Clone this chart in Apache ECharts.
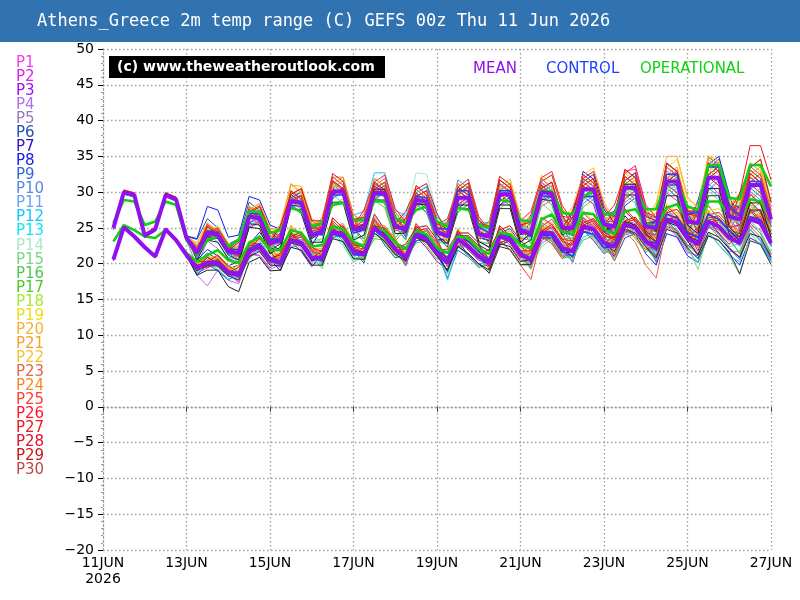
<!DOCTYPE html>
<html><head><meta charset="utf-8">
<script src="https://cdn.jsdelivr.net/npm/echarts@6/dist/echarts.min.js"></script>
<style>html,body{margin:0;padding:0;background:#fff}#c{width:800px;height:600px}</style>
</head><body><div id="c"></div>
<script>
// 6-hourly steps starting 11 Jun 06z (hours since 11 Jun 00z), 64 steps
const dateLabels = ['11JUN\n2026','13JUN','15JUN','17JUN','19JUN','21JUN','23JUN','25JUN','27JUN'];
const legendNames = ['P1','P2','P3','P4','P5','P6','P7','P8','P9','P10','P11','P12','P13','P14','P15','P16','P17','P18','P19','P20','P21','P22','P23','P24','P25','P26','P27','P28','P29','P30'];

const meanMax=[25.0,30.0,29.6,23.9,24.8,29.6,29.0,23.6,21.5,24.3,24.0,21.7,21.5,26.6,26.4,22.9,23.3,28.7,28.5,24.0,24.5,30.1,30.1,24.8,25.0,29.9,29.9,25.2,24.8,28.9,28.7,24.5,23.8,29.2,29.2,24.1,23.8,29.7,29.7,24.5,24.3,30.0,29.8,25.0,25.0,30.4,30.4,25.5,25.2,30.6,30.6,25.2,25.0,31.5,31.5,25.9,25.7,32.0,32.0,26.6,26.2,31.0,31.0,26.2];
const meanMin=[20.6,25.1,23.8,22.3,21.0,24.8,23.3,21.2,19.4,20.1,20.1,18.7,18.4,21.7,22.4,20.5,20.1,23.3,22.9,20.8,20.8,24.5,24.1,21.7,21.3,25.0,23.8,22.0,20.8,24.1,23.4,21.5,20.1,23.4,22.4,21.0,20.1,23.8,23.4,21.3,20.6,24.3,24.3,22.2,21.7,25.2,24.8,22.9,22.4,25.5,25.0,23.1,22.2,26.2,25.7,23.6,22.7,25.9,25.2,23.6,22.9,26.2,25.7,22.9];
const ctrlMax=[25.0,30.0,29.6,23.9,24.8,29.6,29.0,23.6,21.8,24.6,24.3,22.0,22.0,27.1,26.9,23.4,23.5,28.9,28.7,24.2,24.0,29.6,29.6,24.3,24.7,29.6,29.6,24.9,25.3,29.4,29.2,25.0,24.8,30.2,30.2,25.1,24.3,30.2,30.2,25.0,23.8,29.5,29.3,24.5,24.0,29.4,29.4,24.5,25.2,30.6,30.6,25.2,26.0,32.5,32.5,26.9,27.2,33.5,33.5,28.1,26.7,31.5,31.5,26.7];
const ctrlMin=[20.6,25.1,23.8,22.3,21.0,24.8,23.3,21.2,19.6,20.3,20.3,18.9,18.8,22.1,22.8,20.9,20.2,23.4,23.0,20.9,20.4,24.1,23.7,21.3,21.1,24.8,23.6,21.8,21.2,24.5,23.8,21.9,20.8,24.1,23.1,21.7,20.5,24.2,23.8,21.7,20.2,23.9,23.9,21.8,21.0,24.5,24.1,22.2,22.4,25.5,25.0,23.1,22.9,26.9,26.4,24.3,23.7,26.9,26.2,24.6,23.3,26.6,26.1,23.3];
const opMax=[25.7,28.9,28.7,25.4,25.9,28.7,28.2,23.3,21.2,23.3,23.8,22.4,23.3,27.3,27.3,24.3,24.7,27.8,27.3,25.2,25.7,28.2,28.5,26.1,26.1,28.7,28.7,26.4,25.7,27.5,28.0,25.9,25.2,27.8,27.5,25.4,25.0,28.9,28.7,26.1,25.9,30.3,30.1,27.1,26.9,29.4,30.1,26.9,26.9,30.8,30.3,27.6,27.6,31.5,31.5,28.0,27.5,33.8,33.8,29.2,29.0,33.8,33.8,30.8];
const opMin=[23.1,25.4,24.7,23.8,23.6,24.7,23.3,21.5,20.3,21.2,21.9,20.5,20.1,22.9,23.8,21.9,21.9,24.7,24.3,22.4,22.6,25.2,24.8,23.1,22.4,25.0,24.6,22.9,22.0,24.6,24.1,22.2,21.5,23.8,23.6,22.0,21.4,24.3,24.1,22.6,22.2,26.2,26.9,24.5,24.1,27.1,26.9,24.8,24.1,27.3,27.6,25.7,25.2,27.8,28.3,26.2,25.5,28.7,28.7,26.9,26.2,29.0,28.7,26.4];

const p1Max=[25.2,30.2,29.8,24.1,24.9,29.7,29.1,23.7,22.4,25.3,24.2,22.0,22.9,27.4,26.6,23.1,23.4,28.9,27.6,24.1,25.3,30.4,29.8,24.6,26.4,31.2,30.1,25.5,24.8,29.8,28.6,24.2,23.6,28.0,28.9,24.0,23.1,28.1,29.0,24.3,25.6,31.3,30.2,25.0,27.1,32.5,31.2,26.1,26.5,32.9,33.2,27.9,25.3,31.8,32.9,27.5,24.1,30.2,31.6,26.4,23.5,29.8,28.4,23.6];
const p1Min=[20.7,25.2,23.9,22.4,21.1,24.9,23.4,21.3,19.9,20.9,20.1,18.6,18.7,22.8,23.4,20.8,19.4,23.4,22.1,20.0,21.4,24.3,24.8,22.4,22.5,25.2,24.0,22.1,21.6,24.9,23.2,21.2,19.0,22.4,22.3,20.9,19.8,22.6,23.2,21.1,20.3,24.9,24.1,22.0,22.1,26.5,25.3,23.4,23.2,27.3,26.0,24.9,23.5,26.4,25.8,23.7,21.4,25.6,24.1,22.3,20.9,25.3,24.7,21.0];
const p2Max=[24.8,29.8,29.4,23.7,24.8,29.6,29.0,23.6,20.6,23.4,23.9,21.6,20.1,25.1,25.9,22.5,23.0,29.3,28.1,23.6,25.8,31.4,30.2,25.0,24.6,30.3,29.2,24.6,24.9,28.1,28.8,24.6,23.8,30.2,29.1,24.0,25.3,31.1,30.2,25.0,26.4,31.9,30.6,25.8,24.9,30.3,31.5,26.7,23.6,29.0,30.2,24.9,22.4,29.9,28.8,23.3,24.9,31.2,29.8,24.5,27.4,32.1,30.8,26.0];
const p2Min=[20.5,25.0,23.7,22.2,21.0,24.8,23.3,21.2,18.7,19.4,20.1,18.6,17.4,21.4,21.2,19.4,20.6,23.0,23.4,21.4,21.0,25.5,24.3,21.8,21.7,24.6,24.3,22.5,20.0,23.2,23.5,21.6,20.9,24.2,22.3,20.9,20.3,24.9,23.6,21.5,21.1,25.8,24.8,22.6,22.6,25.1,25.6,23.9,21.2,24.3,24.9,23.0,20.2,25.3,23.8,21.6,21.1,25.4,24.7,23.1,23.8,26.1,25.5,22.6];
const p3Max=[25.1,30.1,29.7,24.0,25.0,29.8,29.2,23.8,22.2,24.2,24.8,22.5,21.1,26.9,25.8,22.4,24.4,29.0,29.6,25.1,24.1,30.6,29.5,24.3,24.9,29.0,29.9,25.2,23.4,28.4,27.2,23.0,23.8,28.3,29.3,24.2,23.6,30.5,29.4,24.3,24.1,28.8,29.6,24.8,23.0,29.4,28.3,23.4,25.8,31.2,30.0,24.6,26.0,33.5,32.2,26.8,28.3,33.4,34.6,29.3,26.5,32.6,31.3,26.5];
const p3Min=[20.7,25.2,23.9,22.4,21.1,24.9,23.4,21.3,19.9,20.0,20.7,19.3,18.1,22.2,22.0,20.1,20.9,23.3,23.7,21.7,20.3,24.9,23.6,21.2,21.4,24.1,23.9,22.1,19.7,23.8,22.2,20.3,19.2,23.4,22.5,21.1,20.7,23.5,24.1,21.9,19.5,23.2,24.2,22.1,20.2,24.7,23.2,21.4,22.9,25.1,25.6,23.6,22.7,27.7,26.1,24.0,24.6,26.8,27.2,25.5,23.0,27.4,25.8,23.0];
const p4Max=[24.9,29.9,29.5,23.8,24.5,29.3,28.7,23.3,19.6,23.2,22.1,20.6,20.8,25.0,25.7,22.2,22.0,28.3,27.2,22.7,24.8,29.5,30.4,25.1,25.0,30.8,29.9,25.2,26.3,30.4,29.2,25.0,25.8,30.3,31.2,26.1,24.1,30.9,30.0,24.8,24.8,29.6,30.3,25.5,24.0,30.4,29.4,24.5,23.2,28.6,29.6,24.2,24.6,31.1,30.0,24.4,26.8,33.6,34.2,27.9,27.5,32.4,33.6,28.8];
const p4Min=[20.5,25.0,23.7,22.2,20.8,24.6,23.1,21.0,18.4,16.9,19.1,17.7,17.2,21.3,21.1,19.2,19.9,22.2,22.8,20.7,20.2,24.8,23.5,21.1,22.2,25.0,24.7,22.9,21.0,25.3,23.6,21.7,21.6,23.9,23.9,22.5,20.2,24.9,23.5,21.4,21.1,23.8,24.8,22.7,20.8,25.3,23.9,22.0,21.9,24.0,24.5,22.6,21.0,26.0,24.5,22.4,23.6,25.8,26.1,24.5,23.8,28.1,26.6,23.8];
const p5Max=[25.0,30.0,29.6,23.9,25.0,29.8,29.2,23.8,21.9,23.9,24.5,22.1,21.6,27.5,26.3,22.9,24.8,29.2,30.1,25.5,24.5,31.1,30.0,24.8,25.2,29.1,30.2,25.4,24.5,29.6,28.3,24.2,25.1,29.5,30.6,25.4,22.8,29.7,28.6,23.5,23.3,28.0,28.9,24.0,23.5,29.9,28.8,24.0,26.2,30.6,31.7,26.2,25.5,33.0,31.9,26.4,25.7,30.9,32.1,26.6,24.2,30.1,28.9,24.2];
const p5Min=[20.6,25.1,23.8,22.3,21.1,24.9,23.4,21.3,19.0,20.5,19.7,18.3,19.2,21.7,23.2,21.3,20.4,24.4,23.1,21.0,21.6,24.4,25.0,22.6,20.7,25.3,23.1,21.3,21.3,23.8,23.9,22.1,20.2,24.5,22.5,21.1,19.3,23.9,22.6,20.5,20.0,22.8,23.8,21.7,20.5,25.0,23.6,21.7,23.2,25.4,25.9,24.0,22.4,27.4,25.9,23.8,22.8,25.0,25.3,23.7,21.4,25.7,24.2,21.4];
const p6Max=[25.3,30.3,29.9,24.2,25.0,29.8,29.2,23.8,23.4,26.3,25.0,22.7,23.5,28.6,27.4,23.9,23.3,29.7,28.5,24.0,24.5,29.1,30.2,24.8,23.5,29.4,28.3,23.6,25.3,28.4,29.3,25.1,24.3,30.7,29.6,24.6,25.9,31.7,30.6,25.4,24.2,30.0,30.9,26.1,25.1,29.4,30.5,25.6,22.6,28.1,29.2,23.8,24.1,30.6,29.3,23.8,25.1,32.6,31.4,26.0,28.3,33.1,31.9,27.1];
const p6Min=[20.8,25.3,24.0,22.5,21.1,24.9,23.4,21.3,20.0,21.5,20.6,19.3,19.8,22.2,23.9,21.9,20.0,24.2,22.8,20.7,20.9,23.6,24.2,21.8,20.1,24.8,22.6,20.8,21.3,23.6,23.9,22.0,20.3,24.6,22.6,21.2,21.6,24.3,24.9,22.8,20.4,25.2,24.2,22.0,21.8,24.3,24.9,23.0,20.4,23.6,24.2,22.3,20.6,25.8,24.1,22.0,23.3,25.3,25.8,24.2,23.3,27.7,26.1,23.3];
const p7Max=[24.7,29.7,29.3,23.6,24.8,29.6,29.0,23.6,21.6,25.2,24.0,21.8,21.5,25.7,26.4,22.9,21.8,28.2,27.0,22.5,25.0,29.6,30.6,25.3,25.0,30.9,29.8,25.1,26.3,29.4,30.2,26.0,23.3,29.7,28.6,23.6,23.3,28.2,29.3,24.1,24.2,31.0,29.7,24.9,27.1,31.4,32.5,27.6,25.6,32.2,31.0,25.6,26.1,31.4,32.6,27.0,27.6,34.9,33.9,28.5,27.8,31.4,32.6,26.6];
const p7Min=[20.4,24.9,23.6,22.1,21.0,24.8,23.3,21.2,19.4,20.9,20.0,18.7,18.4,20.9,22.5,20.6,19.0,23.1,21.7,19.6,21.3,24.0,24.6,22.2,21.2,25.9,23.7,21.9,22.0,24.3,24.6,22.7,19.6,23.9,21.9,20.5,19.9,22.6,23.2,21.1,20.4,25.2,24.1,22.0,23.2,25.7,26.3,24.4,22.5,26.7,25.1,23.2,23.2,26.0,26.7,24.6,23.8,28.1,26.3,24.7,24.2,26.3,27.0,24.2];
const p8Max=[25.2,30.2,29.8,24.1,25.1,29.9,29.3,23.9,23.5,28.0,27.5,23.7,24.0,29.4,28.9,25.4,24.8,29.2,30.0,25.5,24.5,31.1,30.0,24.7,25.5,29.4,30.5,25.8,23.8,28.9,27.6,23.4,23.3,27.7,28.8,23.7,23.2,30.2,29.1,24.0,25.8,30.5,31.4,26.6,26.4,32.9,31.8,26.9,27.3,31.6,32.7,27.3,24.4,32.0,30.9,25.3,28.8,33.9,35.0,29.7,25.1,31.1,29.9,25.1];
const p8Min=[20.7,25.2,23.9,22.4,21.2,25.0,23.5,21.4,20.5,22.0,21.1,19.7,20.3,22.7,24.4,22.5,20.3,24.5,23.1,21.0,21.7,24.4,25.0,22.6,20.8,25.5,23.3,21.5,20.9,23.2,23.5,21.6,18.9,23.2,21.2,19.8,20.6,23.3,23.9,21.8,20.7,25.5,24.4,22.3,21.6,25.1,24.7,22.8,21.0,24.6,24.1,21.4,19.8,24.2,23.7,21.1,20.2,23.9,23.3,21.4,19.8,23.6,22.8,20.4];
const p9Max=[24.8,29.8,29.4,23.7,24.6,29.4,28.8,23.4,21.1,23.1,23.7,21.4,21.0,27.1,25.9,22.4,24.3,28.7,29.5,25.0,25.0,31.6,30.5,25.2,26.0,29.9,31.0,26.3,23.8,28.9,27.6,23.4,22.8,27.2,28.3,23.2,22.3,29.2,28.1,22.9,24.4,29.0,29.9,25.1,24.5,30.9,29.8,24.9,26.8,31.1,32.2,26.8,26.4,34.1,32.9,27.3,27.3,32.4,33.6,28.2,24.6,30.6,29.4,24.6];
const p9Min=[20.5,25.0,23.7,22.2,20.9,24.7,23.2,21.1,18.4,19.9,19.0,17.7,18.8,21.2,22.9,21.0,20.0,24.2,22.8,20.7,21.9,24.7,25.3,22.9,21.2,25.9,23.7,21.9,20.9,23.2,23.5,21.6,18.0,21.9,20.9,19.5,19.9,22.6,23.2,21.1,19.6,24.4,23.3,21.2,21.2,25.7,24.2,22.3,22.5,25.6,25.1,23.2,22.3,26.4,25.5,23.2,21.2,25.1,24.3,22.1,20.6,24.8,23.3,20.6];
const p10Max=[25.0,30.0,29.6,23.9,24.7,29.5,28.9,23.5,21.3,24.9,23.7,21.4,21.7,25.8,26.6,23.1,22.8,29.2,28.0,23.5,24.5,29.1,30.1,24.8,25.3,31.2,30.2,25.5,26.8,29.9,30.8,26.5,25.3,31.7,30.6,25.6,25.8,30.7,31.8,26.5,23.8,30.5,29.2,24.4,24.0,28.4,29.5,24.6,23.6,30.2,29.0,23.6,25.6,31.0,32.1,26.5,26.6,34.1,32.9,27.5,26.8,30.4,31.6,25.6];
const p10Min=[20.6,25.1,23.8,22.3,20.9,24.7,23.2,21.1,19.1,20.6,19.7,18.4,17.8,22.0,21.7,19.8,20.6,22.8,23.4,21.3,19.9,24.6,23.2,20.8,22.4,25.1,24.9,23.1,21.3,25.6,23.9,22.0,22.0,24.3,24.3,22.9,20.6,25.3,23.9,21.8,21.1,23.8,24.8,22.7,20.2,24.7,23.3,21.4,22.2,24.3,24.8,22.9,21.7,26.7,25.2,23.1,23.2,27.4,25.7,24.1,22.4,26.7,25.2,22.4];
const p11Max=[25.1,30.1,29.7,24.0,24.8,29.6,29.0,23.6,21.6,23.6,24.2,21.9,22.5,26.6,27.4,23.9,23.6,30.0,28.8,24.3,26.0,30.6,31.6,26.3,26.0,31.9,30.8,26.1,25.8,28.9,29.7,25.5,23.3,29.7,28.6,23.6,24.8,29.7,30.8,25.5,24.8,31.5,30.2,25.4,26.0,30.4,31.5,26.6,24.2,30.6,29.5,24.1,24.0,29.4,30.6,25.0,23.1,30.6,29.4,24.0,25.8,29.4,30.6,24.6];
const p11Min=[20.7,25.2,23.9,22.4,21.0,24.8,23.3,21.2,19.6,19.5,20.4,18.9,18.4,22.6,22.3,20.4,21.1,23.4,24.0,21.9,21.0,25.7,24.3,21.9,22.8,25.5,25.3,23.5,20.7,25.0,23.3,21.4,20.6,22.9,22.9,21.5,20.0,24.7,23.3,21.2,21.8,24.5,25.5,23.4,21.6,26.1,24.7,22.8,22.5,24.6,25.1,23.2,20.7,25.7,24.2,22.1,20.8,24.0,23.3,21.7,21.7,26.0,24.5,21.7];
const p12Max=[24.8,29.8,29.4,23.7,24.9,29.7,29.1,23.7,20.6,24.2,23.0,20.8,21.2,25.3,26.1,22.6,22.8,29.2,28.0,23.5,25.5,31.1,32.1,26.8,27.3,32.7,32.7,27.4,26.8,29.9,30.7,25.4,23.8,30.2,29.1,24.0,25.3,30.2,31.2,26.0,23.2,30.0,28.8,24.0,24.6,28.9,29.9,25.0,25.1,31.6,30.5,25.1,25.0,30.4,31.6,26.0,23.1,30.6,29.4,24.0,23.8,27.4,28.6,22.6];
const p12Min=[20.5,25.0,23.7,22.2,21.1,24.9,23.4,21.3,18.6,20.1,19.2,17.9,18.2,20.6,22.3,20.4,19.6,23.8,22.4,20.3,22.2,25.0,25.6,23.2,22.3,27.0,24.8,23.0,22.2,24.6,24.9,22.0,17.7,22.4,21.4,20.0,20.0,24.7,23.3,21.2,19.2,23.8,22.8,20.7,21.2,23.7,24.3,22.4,21.8,25.0,25.5,22.6,20.6,25.7,24.1,22.0,20.1,24.4,22.6,21.0,20.3,24.8,23.1,20.3];
const p13Max=[25.0,30.0,29.6,23.9,24.8,29.6,29.0,23.6,22.1,24.1,24.7,22.3,21.3,27.4,26.2,22.7,23.3,27.7,28.5,24.0,23.0,29.6,28.5,23.3,25.0,28.9,30.0,25.2,24.8,29.9,28.6,24.5,26.3,30.7,31.8,26.6,24.3,31.2,30.1,25.0,24.8,29.5,30.4,25.5,25.5,31.9,30.8,26.0,27.2,31.6,32.7,27.2,24.0,31.5,30.4,24.9,25.3,30.4,31.6,26.2,26.1,32.1,30.9,26.1];
const p13Min=[20.6,25.1,23.8,22.3,21.0,24.8,23.3,21.2,19.9,19.8,20.6,19.2,18.2,22.3,22.1,20.2,20.1,22.4,22.9,20.9,19.6,24.3,22.9,20.5,21.4,24.1,23.9,22.1,20.7,25.0,23.3,21.4,22.0,24.3,24.3,22.9,20.3,25.0,23.6,21.5,21.1,23.8,24.8,22.7,21.9,26.4,25.0,23.1,23.9,26.0,26.5,24.6,21.3,26.3,24.8,22.7,21.5,25.7,24.0,22.4,22.8,27.1,25.6,22.8];
const p14Max=[25.1,30.1,29.7,24.0,24.6,29.4,28.8,23.4,21.9,23.9,24.4,22.1,21.5,27.6,26.4,22.9,24.1,28.5,29.3,24.8,24.5,31.1,30.0,24.8,26.5,30.4,31.4,26.7,26.8,32.7,32.5,27.0,24.8,31.2,30.1,25.1,24.3,29.2,30.3,25.0,22.8,29.5,28.3,23.5,25.5,29.9,30.9,26.0,25.2,31.6,30.6,25.2,26.5,32.0,33.1,27.4,25.2,32.6,31.4,26.0,25.8,29.4,30.6,24.6];
const p14Min=[20.7,25.2,23.9,22.4,20.9,24.7,23.2,21.1,19.0,20.5,19.6,18.3,19.2,21.6,23.3,21.4,19.8,24.0,22.6,20.5,21.6,24.4,25.0,22.6,21.5,26.2,24.0,22.2,22.8,25.1,25.4,23.5,20.6,24.9,22.9,21.5,20.6,23.3,23.9,21.8,19.4,24.1,23.1,21.0,22.2,24.7,25.3,23.4,22.3,26.4,24.9,23.0,23.4,26.4,26.9,24.8,22.2,26.4,24.7,23.1,21.7,26.0,24.5,21.7];
const p15Max=[24.9,29.9,29.5,23.8,24.8,29.6,29.0,23.6,21.6,25.2,24.0,21.8,22.0,26.1,26.9,23.4,22.3,28.7,27.5,23.0,23.5,28.1,29.1,23.8,23.5,29.4,28.3,23.6,25.3,28.4,29.2,25.0,22.8,29.2,28.1,23.1,22.8,27.7,28.8,23.5,21.8,28.5,27.2,22.4,24.5,28.9,30.0,25.1,24.7,31.1,30.0,24.6,24.5,30.0,31.1,25.5,22.6,30.1,28.9,23.5,23.8,27.4,28.6,22.6];
const p15Min=[20.5,25.0,23.7,22.2,21.0,24.8,23.3,21.2,20.2,20.1,20.9,19.5,18.0,22.2,21.9,20.0,20.1,22.4,22.9,20.9,19.3,24.0,22.6,20.2,21.1,23.8,23.6,21.8,20.3,24.6,22.9,21.0,20.2,22.5,22.5,21.1,18.6,23.3,21.9,19.8,19.7,22.4,23.4,21.3,20.5,25.0,23.6,21.7,22.9,25.0,25.5,23.6,21.0,26.0,24.5,22.4,19.2,24.4,22.7,21.1,18.5,24.2,22.7,19.9];
const p16Max=[25.2,30.2,29.8,24.1,24.9,29.7,29.1,23.7,21.7,23.7,24.3,21.9,20.5,26.6,25.4,21.9,23.8,28.2,29.0,24.5,24.3,30.9,29.8,24.6,25.0,28.9,29.9,25.2,23.3,28.4,27.1,23.0,22.8,27.2,28.2,23.1,22.8,29.7,28.6,23.5,25.3,30.0,30.9,26.1,25.5,31.9,30.8,26.0,25.3,29.6,30.7,25.3,23.0,30.6,29.4,23.8,27.3,32.4,33.6,28.2,28.1,34.1,32.9,28.1];
const p16Min=[20.7,25.2,23.9,22.4,21.1,24.9,23.4,21.3,18.9,20.4,19.5,18.2,18.4,20.8,22.5,20.6,19.6,23.8,22.4,20.3,21.5,24.2,24.8,22.4,20.4,25.1,22.9,21.1,20.6,22.9,23.2,21.3,18.6,22.9,20.9,19.5,20.2,22.9,23.5,21.4,20.5,25.2,24.2,22.1,22.9,25.4,26.0,24.1,21.5,25.6,24.1,22.2,20.5,25.7,24.2,22.1,22.8,27.1,25.4,23.8,23.9,28.4,26.9,24.0];
const p17Max=[25.0,30.0,29.6,23.9,24.6,29.4,28.8,23.4,21.1,24.7,23.6,21.3,22.3,26.4,27.2,23.7,23.3,29.7,28.5,24.0,24.5,29.1,30.1,24.8,23.0,28.9,27.8,23.2,24.8,27.9,28.7,24.5,23.8,30.2,29.1,24.1,24.3,29.2,30.3,25.0,22.8,29.5,28.2,23.5,23.5,27.9,29.0,24.1,23.1,29.6,28.5,23.1,25.5,31.0,32.1,26.5,25.6,33.1,31.9,26.5,25.3,28.9,30.1,24.1];
const p17Min=[20.6,25.1,23.8,22.3,20.9,24.7,23.2,21.1,19.8,19.7,20.5,19.1,18.2,22.4,22.1,20.2,20.9,23.2,23.8,21.7,19.9,24.6,23.2,20.8,20.8,23.5,23.3,21.5,19.9,24.2,22.5,20.6,21.0,23.3,23.3,21.9,19.6,24.3,22.9,20.8,19.4,24.1,23.1,21.0,20.8,23.3,23.9,22.0,20.9,25.0,23.5,21.6,22.7,25.7,26.2,24.1,22.6,26.8,25.1,23.5,21.4,25.7,24.2,21.4];
const p18Max=[24.8,29.8,29.4,23.7,25.0,29.8,29.2,23.8,22.7,24.7,25.3,22.9,22.0,28.1,26.9,23.4,25.0,29.4,30.2,25.7,24.5,31.1,30.0,24.8,25.5,29.4,30.4,25.7,25.3,30.4,29.1,25.0,25.8,30.2,31.2,26.1,25.3,32.2,31.1,26.0,25.8,30.5,31.4,26.6,24.5,30.9,29.8,25.0,25.3,29.6,30.7,25.3,25.0,32.6,31.4,25.8,27.8,32.9,34.1,28.7,26.1,32.1,30.9,26.1];
const p18Min=[20.5,25.0,23.7,22.2,21.1,24.9,23.4,21.3,19.6,21.1,20.2,18.9,19.5,21.9,23.6,21.7,20.4,24.6,23.2,21.1,21.7,24.4,25.0,22.6,20.8,25.5,23.3,21.5,22.0,24.3,24.6,22.7,20.6,24.9,22.9,21.5,22.0,24.7,25.3,23.2,20.8,25.5,24.5,22.4,22.2,24.7,25.3,23.4,21.5,25.6,24.1,22.2,23.1,26.1,26.6,24.5,23.2,27.4,25.7,24.1,22.8,27.1,25.6,22.8];
const p19Max=[25.3,30.3,29.9,24.2,24.8,29.6,29.0,23.6,22.1,25.7,24.5,22.3,23.5,27.6,28.4,24.9,24.6,31.0,29.8,25.3,26.0,30.6,31.6,26.3,26.0,31.9,30.8,26.1,25.8,28.9,29.7,25.5,23.3,29.7,28.6,23.6,25.8,30.7,31.8,26.5,24.8,32.4,31.2,25.4,26.0,30.4,31.5,26.6,25.6,32.2,31.0,25.6,28.1,33.4,34.6,29.0,28.1,35.1,34.4,29.0,28.3,31.9,33.1,27.1];
const p19Min=[20.8,25.3,24.0,22.5,21.0,24.8,23.3,21.2,20.5,20.4,21.3,19.8,19.0,23.2,22.9,21.0,21.7,24.0,24.6,22.5,21.0,25.7,24.3,21.9,22.8,25.5,25.3,23.5,20.7,25.0,23.3,21.4,20.6,22.9,22.9,21.5,20.6,25.3,23.9,21.8,21.8,24.5,25.5,23.4,21.6,26.1,24.7,22.8,23.6,25.7,26.2,24.3,23.4,28.4,26.9,24.8,25.2,27.4,27.7,26.1,23.4,27.7,26.2,23.4];
const p20Max=[25.2,30.2,29.8,24.1,25.1,29.9,29.3,23.9,22.4,24.4,25.0,22.6,22.0,28.1,26.9,23.4,25.6,31.0,30.8,26.3,25.5,32.1,31.0,25.8,26.0,29.9,30.9,26.2,24.3,29.4,28.1,24.0,25.3,29.7,30.8,25.6,23.8,30.7,29.6,24.5,26.8,31.5,32.4,27.6,26.0,32.4,31.3,26.5,26.3,30.6,31.7,26.3,28.5,35.0,35.0,29.4,27.6,35.0,33.9,28.5,28.8,32.4,33.6,27.6];
const p20Min=[20.7,25.2,23.9,22.4,21.2,25.0,23.5,21.4,19.4,20.9,20.0,18.7,19.5,21.9,23.6,21.7,21.2,25.4,24.0,21.9,22.2,25.0,25.6,23.2,21.2,25.9,23.7,21.9,21.3,23.6,23.9,22.0,20.3,24.6,22.6,21.2,21.0,23.7,24.3,22.2,21.5,26.2,25.2,23.1,23.2,25.7,26.3,24.4,22.3,26.4,24.9,23.0,24.1,27.6,27.6,25.5,23.9,28.1,26.4,24.8,24.8,27.1,27.6,23.8];
const p21Max=[25.0,30.0,29.6,23.9,25.0,29.8,29.2,23.8,22.9,25.7,24.5,22.3,23.5,27.6,28.4,24.9,24.8,31.2,30.0,25.5,26.0,30.6,31.6,26.3,24.5,30.4,29.3,24.6,25.8,28.9,29.7,25.5,24.8,31.2,30.1,25.1,25.3,30.2,31.2,26.0,24.3,31.0,29.7,24.9,26.5,30.9,31.9,27.1,26.6,33.1,32.0,26.6,27.0,32.4,33.5,28.0,25.1,32.6,31.4,26.0,27.8,31.4,32.6,26.6];
const p21Min=[20.6,25.1,23.8,22.3,21.1,24.9,23.4,21.3,19.7,21.2,20.3,19.0,19.8,22.2,23.9,22.0,21.0,25.2,23.8,21.7,21.9,24.7,25.3,22.9,20.8,25.5,23.3,21.5,21.7,24.0,24.3,22.4,20.6,24.9,22.9,21.5,21.3,24.0,24.6,22.5,20.5,25.2,24.2,22.1,22.9,25.4,26.0,24.1,23.3,27.4,25.9,24.0,23.7,26.7,27.2,25.1,22.2,26.4,24.7,23.1,24.1,26.4,26.9,23.1];
const p22Max=[24.9,29.9,29.5,23.8,24.8,29.6,29.0,23.6,21.4,25.0,23.8,21.6,22.5,26.6,27.4,23.9,23.8,30.2,29.0,24.5,26.5,31.1,32.1,26.8,25.5,31.4,30.3,25.6,25.3,28.4,29.2,25.0,22.8,29.2,28.1,23.1,24.8,29.7,30.8,25.5,25.3,32.0,30.7,25.9,28.0,32.4,33.4,28.6,26.1,32.7,31.5,26.1,26.0,31.4,32.6,27.0,26.1,33.6,32.4,27.0,28.8,32.4,33.6,27.6];
const p22Min=[20.5,25.0,23.7,22.2,21.0,24.8,23.3,21.2,20.0,19.9,20.8,19.3,18.4,22.6,22.3,20.4,21.2,23.5,24.1,22.0,21.3,26.0,24.6,22.2,22.5,25.2,25.0,23.2,20.3,24.6,22.9,21.0,20.2,22.5,22.5,21.1,20.0,24.7,23.3,21.2,22.1,24.8,25.8,23.7,22.9,27.4,26.0,24.1,23.9,26.0,26.5,24.6,22.1,27.1,25.6,23.5,23.9,26.1,26.4,24.8,23.8,28.1,26.6,23.8];
const p23Max=[25.1,30.1,29.7,24.0,24.9,29.7,29.1,23.7,21.9,23.9,24.5,22.1,20.5,26.6,25.4,21.9,24.3,28.7,29.5,25.0,24.8,31.4,30.3,25.0,27.0,30.9,31.9,27.2,25.3,30.4,29.1,25.0,24.3,28.7,29.8,24.6,22.8,29.7,28.6,23.5,23.8,28.5,29.4,24.6,24.5,30.9,29.8,25.0,26.8,31.1,32.2,26.8,26.0,33.5,32.4,26.9,26.8,31.9,33.1,27.7,25.1,31.1,29.9,25.1];
const p23Min=[20.7,25.2,23.9,22.4,21.1,24.9,23.4,21.3,19.0,20.5,19.6,18.3,18.4,20.8,22.5,20.6,20.1,24.2,22.8,20.7,21.8,24.6,25.2,22.8,21.8,26.5,24.3,22.5,22.0,24.3,24.6,22.7,19.6,23.9,21.9,20.5,20.2,22.9,23.5,21.4,19.4,24.1,23.1,21.0,22.2,24.7,25.3,23.4,20.4,24.5,23.0,19.8,18.0,25.2,24.7,22.6,21.2,25.4,23.7,22.1,20.9,25.2,23.7,20.9];
const p24Max=[25.2,30.2,29.8,24.1,24.8,29.6,29.0,23.6,21.6,25.2,24.0,21.8,22.5,26.6,27.4,23.9,23.8,30.2,29.0,24.5,26.5,32.1,32.1,26.8,26.0,31.9,30.8,26.1,26.3,29.4,30.2,26.0,24.8,31.2,30.1,25.1,25.3,30.2,31.2,26.0,24.3,31.0,29.7,24.9,25.0,29.4,30.4,25.6,24.6,31.2,30.0,24.6,26.5,32.0,33.1,27.5,27.1,34.6,33.4,28.0,29.8,33.4,34.6,28.6];
const p24Min=[20.7,25.2,23.9,22.4,21.0,24.8,23.3,21.2,20.2,20.1,21.0,19.5,18.4,22.6,22.3,20.4,21.2,23.5,24.1,22.0,21.7,26.4,25.0,22.6,22.8,25.5,25.3,23.5,21.0,25.3,23.6,21.7,21.6,23.9,23.9,22.5,20.3,25.0,23.6,21.5,21.5,24.2,25.2,23.1,20.8,25.3,23.9,22.0,22.9,25.0,25.5,23.6,22.4,27.4,25.9,23.8,24.6,26.8,27.1,25.5,24.4,28.7,27.2,24.4];
const p25Max=[24.9,29.9,29.5,23.8,24.9,29.7,29.1,23.7,22.1,24.1,24.7,22.3,21.8,27.9,26.7,23.2,25.3,29.7,30.5,26.0,25.0,31.6,30.5,25.2,26.0,29.9,30.9,26.2,25.8,30.9,29.6,25.5,26.3,30.7,31.8,26.6,24.8,31.7,30.6,25.4,25.8,30.5,31.4,26.6,24.5,30.9,29.8,25.0,24.8,29.1,30.2,24.8,24.5,32.0,30.9,25.4,27.3,32.4,33.6,28.2,27.6,33.6,32.4,27.6];
const p25Min=[20.5,25.2,23.9,22.4,21.1,24.9,23.4,21.3,19.9,19.8,20.7,19.2,18.6,22.8,22.5,20.6,21.5,23.8,24.4,22.3,21.0,25.7,24.3,21.9,22.2,24.9,24.7,22.9,21.3,25.6,23.9,22.0,22.0,24.3,24.3,22.9,19.1,23.3,21.9,19.8,17.8,23.8,22.8,20.7,22.2,24.7,25.3,23.4,21.2,25.3,23.8,21.9,22.7,25.7,26.2,24.1,22.9,27.1,25.4,23.8,24.8,27.1,27.6,23.8];
const p26Max=[25.0,30.0,29.6,23.9,25.0,29.8,29.2,23.8,22.4,24.4,25.0,22.6,21.0,27.1,25.9,22.4,24.3,28.7,29.5,25.0,25.0,31.6,30.5,25.2,27.5,31.4,32.4,27.7,25.8,30.9,29.6,25.5,25.3,29.7,30.8,25.6,25.3,32.2,31.1,26.0,27.3,32.0,32.9,28.1,26.0,32.4,31.3,26.5,28.2,32.6,33.7,28.2,26.5,34.0,32.9,27.4,27.2,32.4,33.6,28.1,26.1,32.1,30.9,26.1];
const p26Min=[20.6,25.1,23.8,22.3,21.1,24.9,23.4,21.3,19.4,20.9,20.0,18.7,18.8,21.2,22.9,21.0,20.0,24.2,22.8,20.7,21.9,24.7,25.3,22.9,22.2,26.9,24.7,22.9,22.3,24.6,24.9,23.0,20.3,24.6,22.6,21.2,22.0,24.7,25.3,23.2,21.8,26.5,25.5,23.4,23.2,25.7,26.3,24.4,23.6,27.7,26.2,24.3,24.1,27.1,27.6,25.5,22.9,27.1,25.4,23.8,23.8,26.1,26.6,22.8];
const p27Max=[25.3,30.3,29.9,24.2,25.1,29.9,29.3,23.9,21.9,25.5,24.3,22.1,23.2,27.3,28.1,24.6,23.8,30.2,29.0,24.5,25.0,29.6,30.6,25.3,25.0,30.9,29.8,25.1,26.3,29.4,30.2,26.0,23.8,30.2,29.1,24.1,24.3,29.2,30.3,25.0,24.3,31.0,29.7,24.9,27.5,31.9,32.9,28.1,25.6,32.2,31.0,25.6,26.0,31.4,32.6,27.0,26.6,34.1,32.9,27.5,29.7,36.5,36.5,31.7];
const p27Min=[20.8,25.3,24.0,22.5,21.2,25.0,23.5,21.4,20.4,20.3,21.2,19.7,18.8,23.0,22.7,20.8,21.2,23.5,24.1,22.0,20.3,25.0,23.6,21.2,22.2,24.9,24.7,22.9,21.0,25.3,23.6,21.7,21.0,23.3,23.3,21.9,19.6,24.3,22.9,20.8,21.5,24.2,25.2,23.1,22.6,27.1,25.7,23.8,23.6,25.7,26.2,24.3,22.1,27.1,25.6,23.5,24.2,26.4,26.7,25.1,25.4,29.7,28.2,25.4];
const p28Max=[25.1,30.1,29.7,24.0,25.0,29.8,29.2,23.8,21.9,23.9,24.5,22.1,21.5,27.6,26.4,22.9,25.3,29.7,30.5,26.0,26.0,32.6,31.5,26.2,26.5,30.4,31.4,26.7,24.8,29.9,28.6,24.5,25.8,30.2,31.3,26.1,24.8,31.7,30.6,25.4,25.8,30.5,31.4,26.6,25.0,31.4,30.3,25.4,27.2,31.6,32.7,27.2,26.5,34.0,32.9,27.3,26.8,31.9,33.1,27.7,26.6,32.6,31.4,26.6];
const p28Min=[20.7,25.2,23.9,22.4,21.1,24.9,23.4,21.3,19.8,19.7,20.6,19.1,18.4,22.6,22.3,20.4,21.5,23.8,24.4,22.3,21.7,26.4,25.0,22.6,22.5,25.2,25.0,23.2,20.7,25.0,23.3,21.4,21.6,23.9,23.9,22.5,20.6,25.3,23.9,21.8,21.8,24.5,25.5,23.4,21.6,26.1,24.7,22.8,23.9,26.0,26.5,24.6,23.1,28.1,26.6,24.5,23.6,25.8,26.1,24.5,23.1,27.4,25.9,23.1];
const p29Max=[25.2,30.2,29.8,24.1,24.8,29.6,29.0,23.6,21.6,25.2,24.0,21.8,23.0,27.1,27.9,24.4,23.3,29.7,28.5,24.0,25.0,29.6,30.6,25.3,25.5,31.4,30.3,25.6,27.3,30.4,31.2,27.0,24.3,30.7,29.6,24.6,23.8,28.7,29.8,24.5,23.8,30.5,29.2,24.4,26.5,30.9,31.9,27.1,26.6,33.2,32.0,26.6,26.0,31.4,32.6,27.0,24.6,32.1,30.9,25.5,29.8,33.4,34.6,28.6];
const p29Min=[20.7,25.2,23.9,22.4,21.0,24.8,23.3,21.2,19.4,20.9,20.0,18.7,19.5,21.9,23.6,21.7,20.0,24.2,22.8,20.7,21.2,24.0,24.6,22.2,21.5,26.2,24.0,22.2,22.7,25.0,25.3,23.4,20.3,24.6,22.6,21.2,20.2,22.9,23.5,21.4,20.1,24.8,23.8,21.7,22.9,25.4,26.0,24.1,23.3,27.4,25.9,24.0,23.1,26.1,26.6,24.5,21.8,26.0,24.3,22.7,24.4,28.7,27.2,24.4];
const p30Max=[25.0,30.0,29.6,23.9,24.7,29.5,28.9,23.5,21.6,23.6,24.2,21.8,21.0,27.1,25.9,22.4,24.3,28.7,29.5,25.0,25.5,32.1,31.0,25.8,26.5,30.4,31.4,26.7,24.3,29.4,28.1,24.0,23.8,28.2,29.3,24.1,24.3,31.2,30.1,25.0,26.8,31.5,32.4,27.6,25.5,31.9,30.8,26.0,25.8,30.1,31.2,25.8,23.5,31.0,29.9,24.4,27.3,32.4,33.6,28.2,27.1,33.1,31.9,27.1];
const p30Min=[20.6,25.1,23.8,22.3,20.9,24.7,23.2,21.1,19.6,19.5,20.4,18.9,18.0,22.2,21.9,20.0,20.9,23.2,23.8,21.7,21.3,26.0,24.6,22.2,22.5,25.2,25.0,23.2,20.3,24.6,22.9,21.0,20.2,22.5,22.5,21.1,20.3,25.0,23.6,21.5,22.5,25.2,26.2,24.1,21.9,26.4,25.0,23.1,22.9,25.0,25.5,23.6,21.0,26.0,24.5,22.4,23.9,26.1,26.4,24.8,23.4,27.7,26.2,23.4];
// unlabelled black traces seen in the plot
const blackAMax=[25.0,30.0,29.6,23.9,25.0,29.8,29.2,23.8,20.5,23.3,23.0,20.7,20.0,25.1,24.9,21.4,22.3,27.7,27.5,23.0,23.0,28.6,28.6,23.3,24.0,28.9,28.9,24.2,24.3,28.4,28.2,24.0,22.8,28.2,28.2,23.1,22.3,28.2,28.2,23.0,24.3,30.0,29.8,25.0,24.0,29.4,29.4,24.5,25.7,31.1,31.1,25.7,24.5,31.0,31.0,25.4,24.2,30.5,30.5,25.1,23.7,28.5,28.5,23.7];
const blackAMin=[20.6,25.2,23.9,22.4,21.1,24.9,23.4,21.3,18.4,19.1,19.1,16.8,16.1,20.2,20.9,19.0,19.1,22.3,21.9,19.8,19.8,23.5,23.1,20.7,20.6,24.3,23.1,21.3,20.4,23.7,23.0,21.1,19.1,22.4,21.4,20.0,19.1,22.8,22.4,20.3,20.6,24.3,24.3,22.2,21.0,24.5,24.1,22.2,22.8,25.9,25.4,23.5,21.8,25.8,25.3,23.2,21.2,24.4,23.7,22.1,20.9,24.2,23.7,20.9];
const blackBMax=[25.1,30.1,29.7,24.0,24.8,29.6,29.0,23.6,21.0,23.8,23.5,21.2,20.5,25.6,25.4,21.9,22.8,28.2,28.0,23.5,24.5,30.1,30.1,24.8,25.5,30.4,30.4,25.7,24.3,28.4,28.2,24.0,22.3,27.7,27.7,22.6,21.8,27.7,27.7,22.5,23.3,29.0,28.8,24.0,25.0,30.4,30.4,25.5,24.2,29.6,29.6,24.2,23.0,29.5,29.5,23.9,23.2,29.5,29.5,24.1,22.7,27.5,27.5,22.7];
const blackBMin=[20.6,25.1,23.8,22.3,21.0,24.8,23.3,21.2,19.0,19.7,19.7,18.3,17.7,21.0,21.7,19.8,19.7,22.9,22.5,20.4,20.8,24.5,24.1,21.7,21.7,25.4,24.2,22.4,20.4,23.7,23.0,21.1,19.1,22.4,21.4,20.0,18.7,22.4,22.0,19.9,19.9,23.6,23.6,21.5,21.7,25.2,24.8,22.9,21.7,24.8,24.3,22.4,20.8,24.8,24.3,22.2,20.7,23.9,23.2,21.6,18.6,23.2,22.7,19.9];

const memberMax=[p1Max,p2Max,p3Max,p4Max,p5Max,p6Max,p7Max,p8Max,p9Max,p10Max,p11Max,p12Max,p13Max,p14Max,p15Max,p16Max,p17Max,p18Max,p19Max,p20Max,p21Max,p22Max,p23Max,p24Max,p25Max,p26Max,p27Max,p28Max,p29Max,p30Max];
const memberMin=[p1Min,p2Min,p3Min,p4Min,p5Min,p6Min,p7Min,p8Min,p9Min,p10Min,p11Min,p12Min,p13Min,p14Min,p15Min,p16Min,p17Min,p18Min,p19Min,p20Min,p21Min,p22Min,p23Min,p24Min,p25Min,p26Min,p27Min,p28Min,p29Min,p30Min];

// styles
const memberColors=['#f040e8','#e020f0','#9a10f0','#b070e8','#9878c0','#2050b0','#3010c0','#1020f0','#3068e0','#5888e8','#70a0f0','#10c8ff','#10e8f0','#a8e8c8','#78d880','#50c850','#50c828','#a8e830','#f0dc10','#f8b030','#f8a028','#f8c030','#e06848','#f88828','#ff4030','#ff1830','#f01818','#e01028','#c81818','#c04848'];

const STEP_H = 6;
function toXY(arr){ return arr.map((v,i)=>[(i+1)*STEP_H, v]); }
function line(name, arr, color, width){
  return {name, type:'line', data:toXY(arr), symbol:'none', silent:true,
    lineStyle:{color, width}, itemStyle:{color}, emphasis:{disabled:true}};
}

const series=[];
memberMax.forEach((a,k)=>{ series.push(line(legendNames[k]+' max', a, memberColors[k], 1)); series.push(line(legendNames[k]+' min', memberMin[k], memberColors[k], 1)); });
series.push(line('x1 max', blackAMax, '#202020', 1));
series.push(line('x1 min', blackAMin, '#202020', 1));
series.push(line('x2 max', blackBMax, '#303030', 1));
series.push(line('x2 min', blackBMin, '#303030', 1));
series.push(line('CONTROL max', ctrlMax, '#2040ff', 1.5));
series.push(line('CONTROL min', ctrlMin, '#2040ff', 1.5));
series.push(line('OPERATIONAL max', opMax, '#10d010', 2.6));
series.push(line('OPERATIONAL min', opMin, '#10d010', 2.6));
series.push(line('MEAN max', meanMax, '#9010f0', 4));
series.push(line('MEAN min', meanMin, '#9010f0', 4));

const gridLine={color:'#a0a0a0', width:1.3, type:[1.5,2.5]};
const graphics=[
  {type:'rect', shape:{x:0,y:0,width:800,height:42}, style:{fill:'#3173b1'}, silent:true},
  {type:'text', x:37, y:22, style:{text:'Athens_Greece 2m temp range (C) GEFS 00z Thu 11 Jun 2026', fill:'#ffffff', font:'17px "DejaVu Sans Mono"', textVerticalAlign:'middle'}},
  {type:'rect', shape:{x:109,y:56,width:276,height:22}, style:{fill:'#000000'}, z:50},
  {type:'text', x:117, y:67, z:51, style:{text:'(c) www.theweatheroutlook.com', fill:'#ffffff', font:'bold 14px "DejaVu Sans"', textVerticalAlign:'middle'}},
  {type:'text', x:473, y:69, z:51, style:{text:'MEAN', fill:'#9010f0', font:'15px "DejaVu Sans"', textVerticalAlign:'middle'}},
  {type:'text', x:546, y:69, z:51, style:{text:'CONTROL', fill:'#2040ff', font:'15px "DejaVu Sans"', textVerticalAlign:'middle'}},
  {type:'text', x:640, y:69, z:51, style:{text:'OPERATIONAL', fill:'#10d010', font:'15px "DejaVu Sans"', textVerticalAlign:'middle'}}
];
legendNames.forEach((n,k)=>{
  graphics.push({type:'text', x:16, y:63+14.05*k, style:{text:n, fill:memberColors[k], font:'15px "DejaVu Sans"', textVerticalAlign:'middle'}});
});

const chart=echarts.init(document.getElementById('c'));
chart.setOption({
  animation:false,
  backgroundColor:'#ffffff',
  grid:{left:103, right:29, top:49, bottom:50},
  xAxis:{type:'value', min:0, max:384, interval:48,
    axisLine:{show:true, lineStyle:gridLine},
    axisTick:{show:true, length:5, inside:false, lineStyle:{color:'#444', width:1}},
    splitLine:{show:true, lineStyle:gridLine},
    axisLabel:{color:'#000', fontSize:14, fontFamily:'DejaVu Sans', margin:5, lineHeight:16,
      formatter:(v)=>dateLabels[Math.round(v/48)]||''}},
  yAxis:{type:'value', min:-20, max:50, interval:5,
    axisLine:{show:true, lineStyle:gridLine},
    axisTick:{show:true, length:5, lineStyle:{color:'#000', width:1}},
    minorTick:{show:true, splitNumber:5, length:2, lineStyle:{color:'#999'}},
    splitLine:{show:true, lineStyle:gridLine},
    axisLabel:{color:'#000', fontSize:14, fontFamily:'DejaVu Sans', margin:9,
      formatter:(v)=> v<0 ? '\u2212'+Math.abs(v) : String(v)}},
  series,
  graphic:graphics
});
</script></body></html>
